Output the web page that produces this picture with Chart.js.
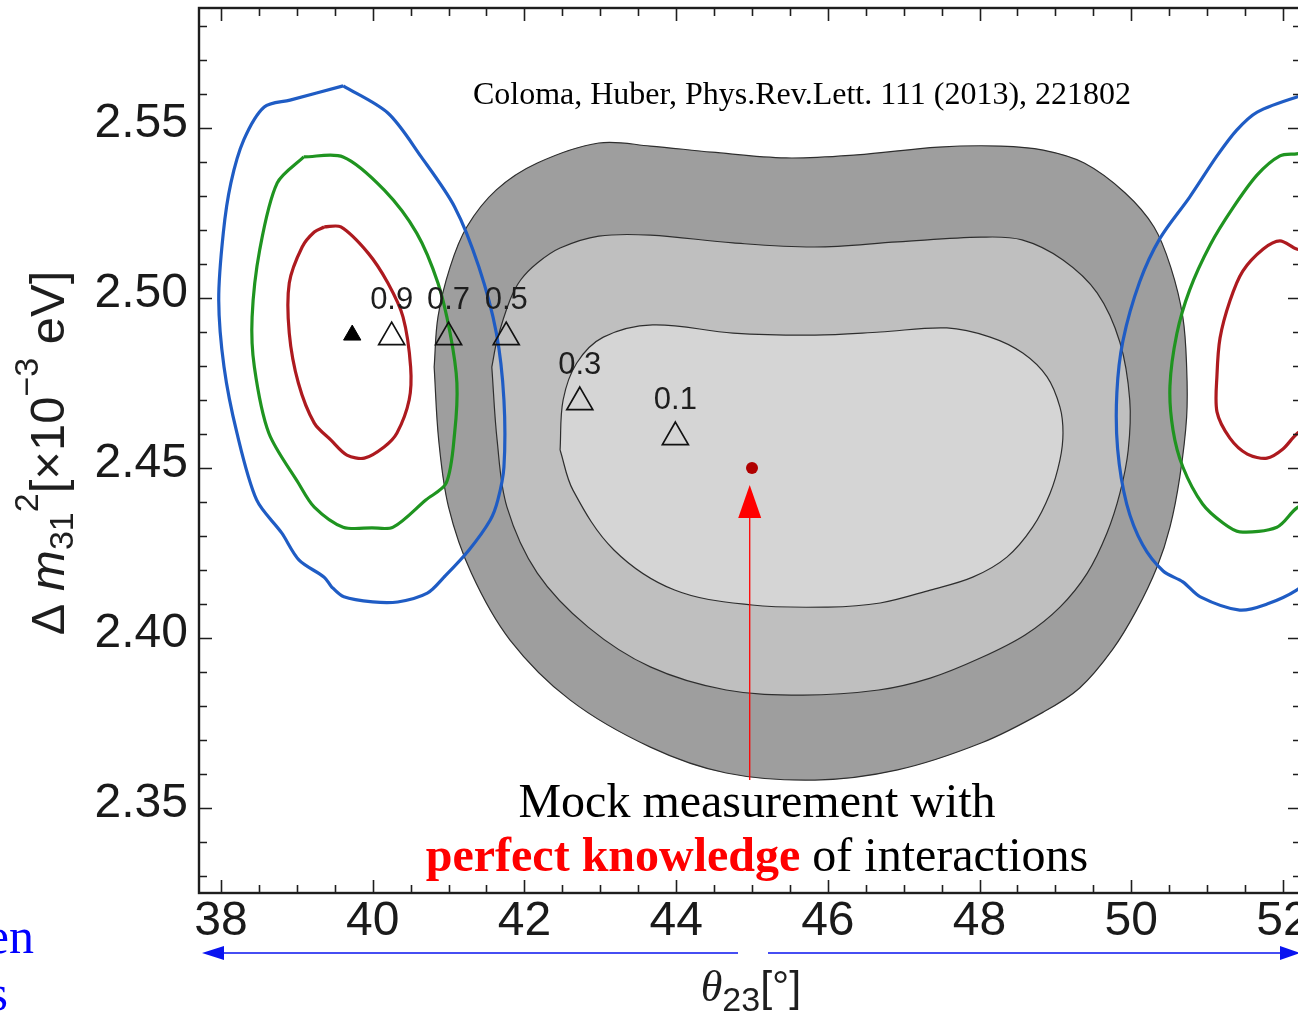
<!DOCTYPE html>
<html>
<head>
<meta charset="utf-8">
<title>theta23 vs dm31 - mock measurement</title>
<script src="https://cdn.jsdelivr.net/npm/chart.js@4.4.1/dist/chart.umd.min.js"></script>
<style>
  html, body { margin: 0; padding: 0; background: #fff; }
  canvas { display: block; }
</style>
</head>
<body>
<canvas id="chart" width="1298" height="1016"></canvas>
<script>
/* theta23 / Delta m31^2 plane: allowed regions with and without perfect knowledge of interactions */

const xTicks = [38, 40, 42, 44, 46, 48, 50, 52];
const xTickLabels = ["38", "40", "42", "44", "46", "48", "50", "52"];
const yTicks = [2.35, 2.40, 2.45, 2.50, 2.55];
const yTickLabels = ["2.35", "2.40", "2.45", "2.50", "2.55"];

// gray allowed regions (closed outlines: outer, middle, inner)
const outerRegion = [
  [40.81, 2.4797], [40.86, 2.4944], [41.02, 2.5091], [41.24, 2.5209], [41.63, 2.5318],
  [42.17, 2.5397], [42.98, 2.5456], [43.66, 2.5447], [44.47, 2.5429], [45.45, 2.5412],
  [46.38, 2.5421], [47.46, 2.5444], [48.28, 2.5447], [48.84, 2.5435], [49.38, 2.5397],
  [49.92, 2.5309], [50.30, 2.5209], [50.52, 2.5091], [50.68, 2.4944], [50.73, 2.4797],
  [50.73, 2.4650], [50.64, 2.4474], [50.51, 2.4326], [50.34, 2.4209], [50.07, 2.4082],
  [49.75, 2.3965], [49.32, 2.3853], [48.84, 2.3782], [48.02, 2.3691], [46.92, 2.3612],
  [45.83, 2.3582], [44.66, 2.3603], [43.66, 2.3679], [42.60, 2.3818], [41.81, 2.3994],
  [41.30, 2.4191], [41.00, 2.4385], [40.87, 2.4582], [40.81, 2.4797]
];
const middleRegion = [
  [41.57, 2.4797], [41.64, 2.4876], [41.81, 2.4994], [41.95, 2.5053], [42.17, 2.5103],
  [42.47, 2.5147], [42.98, 2.5182], [43.66, 2.5185], [44.75, 2.5162], [45.83, 2.5150],
  [46.92, 2.5165], [48.02, 2.5179], [48.56, 2.5171], [49.10, 2.5112], [49.55, 2.5015],
  [49.85, 2.4870], [49.98, 2.4700], [49.96, 2.4553], [49.85, 2.4426], [49.68, 2.4309],
  [49.42, 2.4191], [49.06, 2.4091], [48.60, 2.4009], [48.01, 2.3941], [47.35, 2.3882],
  [46.67, 2.3847], [45.67, 2.3832], [44.66, 2.3847], [43.66, 2.3915], [42.84, 2.4032],
  [42.17, 2.4191], [41.77, 2.4385], [41.64, 2.4582], [41.57, 2.4797]
];
const innerRegion = [
  [42.47, 2.4553], [42.51, 2.4700], [42.69, 2.4809], [43.04, 2.4885], [43.69, 2.4921],
  [44.75, 2.4897], [45.83, 2.4891], [46.69, 2.4900], [47.57, 2.4912], [48.14, 2.4885],
  [48.57, 2.4838], [48.89, 2.4768], [49.06, 2.4679], [49.10, 2.4603], [49.06, 2.4524],
  [48.93, 2.4426], [48.70, 2.4326], [48.36, 2.4238], [47.91, 2.4179], [47.35, 2.4141],
  [46.69, 2.4103], [46.00, 2.4091], [45.00, 2.4097], [43.98, 2.4141], [43.18, 2.4259],
  [42.64, 2.4435], [42.47, 2.4553]
];

// colored contours, left island
const blueLeft = [
  [39.61, 2.5624], [40.20, 2.5544], [40.64, 2.5415], [41.08, 2.5268], [41.40, 2.5091],
  [41.63, 2.4897], [41.73, 2.4700], [41.73, 2.4503], [41.65, 2.4406], [41.55, 2.4347],
  [41.27, 2.4259], [40.94, 2.4179], [40.72, 2.4132], [40.33, 2.4106], [40.00, 2.4106],
  [39.62, 2.4121], [39.46, 2.4150], [39.36, 2.4179], [39.03, 2.4229], [38.80, 2.4309],
  [38.47, 2.4406], [38.21, 2.4603], [38.04, 2.4797], [37.97, 2.4994], [38.03, 2.5191],
  [38.13, 2.5338], [38.30, 2.5465], [38.57, 2.5562], [38.91, 2.5582], [39.61, 2.5624]
];
const greenLeft = [
  [39.09, 2.5415], [39.61, 2.5415], [40.15, 2.5318], [40.58, 2.5191], [40.86, 2.5044],
  [41.02, 2.4897], [41.11, 2.4750], [41.08, 2.4603], [40.97, 2.4456], [40.70, 2.4406],
  [40.27, 2.4326], [39.99, 2.4324], [39.61, 2.4326], [39.23, 2.4385], [39.02, 2.4456],
  [38.63, 2.4603], [38.44, 2.4797], [38.41, 2.4944], [38.51, 2.5141], [38.74, 2.5338],
  [39.09, 2.5415]
];
const redLeft = [
  [39.36, 2.5209], [39.58, 2.5209], [39.94, 2.5132], [40.20, 2.5044], [40.40, 2.4944],
  [40.50, 2.4797], [40.48, 2.4700], [40.32, 2.4603], [40.15, 2.4562], [39.89, 2.4529],
  [39.66, 2.4538], [39.45, 2.4582], [39.23, 2.4632], [39.02, 2.4750], [38.90, 2.4897],
  [38.90, 2.5044], [39.07, 2.5150], [39.23, 2.5194], [39.36, 2.5209]
];

// colored contours, right island (runs past the right edge)
const blueRight = [
  [52.70, 2.5620], [52.18, 2.5591], [51.66, 2.5547], [51.39, 2.5494], [51.13, 2.5418],
  [50.77, 2.5297], [50.38, 2.5176], [50.11, 2.5047], [49.89, 2.4874], [49.81, 2.4721],
  [49.82, 2.4556], [49.94, 2.4394], [50.15, 2.4274], [50.42, 2.4197], [50.68, 2.4165],
  [50.91, 2.4121], [51.43, 2.4082], [51.79, 2.4100], [52.18, 2.4141], [52.70, 2.4230]
];
const greenRight = [
  [52.70, 2.5440], [52.18, 2.5424], [51.96, 2.5418], [51.66, 2.5362], [51.34, 2.5265],
  [51.04, 2.5156], [50.77, 2.5024], [50.60, 2.4894], [50.51, 2.4741], [50.55, 2.4612],
  [50.68, 2.4503], [50.94, 2.4394], [51.21, 2.4338], [51.43, 2.4312], [51.92, 2.4326],
  [52.18, 2.4382], [52.70, 2.4450]
];
const redRight = [
  [52.50, 2.5130], [52.18, 2.5144], [51.96, 2.5168], [51.74, 2.5144], [51.47, 2.5079],
  [51.30, 2.4991], [51.17, 2.4882], [51.13, 2.4774], [51.13, 2.4665], [51.30, 2.4588],
  [51.53, 2.4541], [51.79, 2.4529], [52.00, 2.4556], [52.18, 2.4600], [52.50, 2.4650]
];

// markers
const filledMarker = [[39.73, 2.4891]];
const openMarkers = [[40.25, 2.4885], [41.00, 2.4885], [41.76, 2.4885], [42.73, 2.4694], [43.99, 2.4591]];
const openLabels = ["0.9", "0.7", "0.5", "0.3", "0.1"];
const mockPoint = [[45.00, 2.4500]];
const arrowTail = [44.97, 2.3582];
const arrowTip = [44.97, 2.4450];

const citation = "Coloma, Huber, Phys.Rev.Lett. 111 (2013), 221802";
const mockLine1 = "Mock measurement with";
const mockRed = "perfect knowledge";
const mockRest = " of interactions";

const SANS = '"Liberation Sans", Arial, sans-serif';
const SERIF = '"Liberation Serif", "Times New Roman", serif';

const toPts = (arr) => arr.map(([x, y]) => ({ x, y }));

function region(pts, color, order) {
  return {
    data: toPts(pts), showLine: true, fill: "shape", backgroundColor: color,
    borderColor: "#2e2e2e", borderWidth: 1.2, pointRadius: 0, tension: 0.35, order,
  };
}
function contour(pts, color, order) {
  return {
    data: toPts(pts), showLine: true, fill: false, borderColor: color,
    borderWidth: 3.2, pointRadius: 0, tension: 0.3, order,
  };
}

// frame with inward ticks on all sides
const frameTicks = {
  id: "frameTicks",
  afterDatasetsDraw(chart) {
    const { ctx, chartArea: a, scales: { x, y } } = chart;
    const right = a.right + 3;
    ctx.save();
    ctx.strokeStyle = "#1e1e1e";
    ctx.lineWidth = 1.6;
    ctx.beginPath();
    for (let k = 76; k <= 104; k++) {
      const px = Math.round(x.getPixelForValue(k / 2)) + 0.5;
      const len = k % 4 === 0 ? 13 : 8;
      ctx.moveTo(px, a.bottom); ctx.lineTo(px, a.bottom - len);
      ctx.moveTo(px, a.top); ctx.lineTo(px, a.top + len);
    }
    for (let k = 233; k <= 258; k++) {
      const py = Math.round(y.getPixelForValue(k / 100)) + 0.5;
      const len = k % 5 === 0 ? 13 : 8;
      ctx.moveTo(a.left, py); ctx.lineTo(a.left + len, py);
      ctx.moveTo(right, py); ctx.lineTo(right - len, py);
    }
    ctx.stroke();
    ctx.lineWidth = 2.4;
    ctx.strokeRect(a.left, a.top, right - a.left, a.bottom - a.top);
    ctx.restore();
  },
};

// numbers over the triangles + red arrow
const markerNotes = {
  id: "markerNotes",
  afterDatasetsDraw(chart) {
    const { ctx, scales: { x, y } } = chart;
    const meta = chart.getDatasetMeta(chart.data.datasets.findIndex((d) => d.id === "open"));
    ctx.save();
    ctx.fillStyle = "#1e1e1e";
    ctx.font = "31px " + SANS;
    ctx.textAlign = "center";
    ctx.textBaseline = "middle";
    meta.data.forEach((pt, i) => ctx.fillText(openLabels[i], pt.x, pt.y - 37));

    const ax = x.getPixelForValue(arrowTail[0]);
    const ay0 = y.getPixelForValue(arrowTail[1]);
    const ay1 = y.getPixelForValue(arrowTip[1]);
    ctx.strokeStyle = "#ff0000";
    ctx.fillStyle = "#ff0000";
    ctx.lineWidth = 1.3;
    ctx.beginPath();
    ctx.moveTo(ax, ay0); ctx.lineTo(ax, ay1 + 28);
    ctx.stroke();
    ctx.beginPath();
    ctx.moveTo(ax, ay1); ctx.lineTo(ax - 11.5, ay1 + 33); ctx.lineTo(ax + 11.5, ay1 + 33);
    ctx.closePath();
    ctx.fill();
    ctx.restore();
  },
};

function drawRuns(ctx, runs, cx, base) {
  let total = 0;
  runs.forEach((r) => { ctx.font = r.font; r.w = ctx.measureText(r.t).width; total += r.w; });
  let px = cx - total / 2;
  ctx.textAlign = "left";
  ctx.textBaseline = "alphabetic";
  runs.forEach((r) => {
    ctx.save();
    if (r.color) ctx.fillStyle = r.color;
    ctx.font = r.font;
    ctx.fillText(r.t, px, base + (r.dy || 0));
    ctx.restore();
    px += r.w;
  });
}

// slide overlay: citation, mock measurement note, axis titles, blue arrows
const overlay = {
  id: "overlay",
  afterDraw(chart) {
    const ctx = chart.ctx;
    ctx.save();
    ctx.fillStyle = "#000";
    ctx.textAlign = "center";
    ctx.textBaseline = "alphabetic";
    ctx.font = "32px " + SERIF;
    ctx.fillText(citation, 802, 104);

    ctx.font = "48px " + SERIF;
    ctx.fillText(mockLine1, 757, 817);
    drawRuns(ctx, [
      { t: mockRed, font: "bold 48px " + SERIF, color: "#ff0000" },
      { t: mockRest, font: "48px " + SERIF },
    ], 757, 871);

    // blue arrows under the x axis
    ctx.strokeStyle = "#0a14f0";
    ctx.fillStyle = "#0a14f0";
    ctx.lineWidth = 1.6;
    ctx.beginPath();
    ctx.moveTo(222, 953); ctx.lineTo(738, 953);
    ctx.moveTo(768, 953); ctx.lineTo(1282, 953);
    ctx.stroke();
    ctx.beginPath();
    ctx.moveTo(202, 953); ctx.lineTo(224, 946); ctx.lineTo(224, 960); ctx.closePath();
    ctx.moveTo(1300, 953); ctx.lineTo(1280, 946); ctx.lineTo(1280, 960); ctx.closePath();
    ctx.fill();

    // cut-off slide text on the left
    ctx.fillStyle = "#0000ff";
    ctx.font = "50px " + SERIF;
    ctx.textAlign = "right";
    ctx.fillText("en", 34, 953);
    ctx.fillText("s", 8, 1010);

    // x title: theta_23 [deg]
    ctx.fillStyle = "#1e1e1e";
    drawRuns(ctx, [
      { t: "\u03B8", font: "italic 44px " + SERIF },
      { t: "23", font: "34px " + SANS, dy: 10 },
      { t: "[\u00B0]", font: "43px " + SANS },
    ], 751, 1001);

    // y title: Delta m31^2 [x10^-3 eV]
    ctx.translate(64, 453);
    ctx.rotate(-Math.PI / 2);
    drawRuns(ctx, [
      { t: "\u0394 ", font: "47px " + SANS },
      { t: "m", font: "italic 49px " + SANS },
      { t: "31", font: "34px " + SANS, dy: 9 },
      { t: "2", font: "34px " + SANS, dy: -26 },
      { t: "[\u00D710", font: "49px " + SANS },
      { t: "\u22123", font: "34px " + SANS, dy: -26 },
      { t: " eV]", font: "49px " + SANS },
    ], 0, 0);
    ctx.restore();
  },
};

new Chart(document.getElementById("chart"), {
  type: "scatter",
  data: {
    datasets: [
      region(outerRegion, "#9e9e9e", 30),
      region(middleRegion, "#bfbfbf", 29),
      region(innerRegion, "#d5d5d5", 28),
      contour(blueLeft, "#1f5cc4", 12),
      contour(greenLeft, "#1f9420", 11),
      contour(redLeft, "#ad1a1f", 10),
      contour(blueRight, "#1f5cc4", 12),
      contour(greenRight, "#1f9420", 11),
      contour(redRight, "#ad1a1f", 10),
      {
        id: "filled", data: toPts(filledMarker), pointStyle: "triangle", pointRadius: 10,
        backgroundColor: "#000", borderColor: "#000", borderWidth: 1, order: 2,
      },
      {
        id: "open", data: toPts(openMarkers), pointStyle: "triangle", pointRadius: 15,
        backgroundColor: "rgba(0,0,0,0)", borderColor: "#111", borderWidth: 1.7, order: 1,
      },
      {
        id: "mock", data: toPts(mockPoint), pointStyle: "circle", pointRadius: 6,
        backgroundColor: "#b00000", borderColor: "#b00000", borderWidth: 0, order: 0,
      },
    ],
  },
  options: {
    responsive: false,
    animation: false,
    events: [],
    layout: { autoPadding: false, padding: { top: 8, right: 0, bottom: 0, left: 0 } },
    plugins: { legend: { display: false }, tooltip: { enabled: false } },
    scales: {
      x: {
        type: "linear", position: "bottom", min: 37.71, max: 52.198,
        grid: { display: false, drawTicks: false }, border: { display: false },
        afterBuildTicks: (s) => { s.ticks = xTicks.map((v) => ({ value: v })); },
        afterFit: (s) => { s.height = 123; s.paddingLeft = 0; s.paddingRight = 0; },
        ticks: {
          autoSkip: false, maxRotation: 0, minRotation: 0, padding: 0, color: "#1a1a1a",
          font: { family: SANS, size: 48 },
          callback: (v, i) => xTickLabels[i],
        },
      },
      y: {
        type: "linear", position: "left", min: 2.325, max: 2.5853,
        grid: { display: false, drawTicks: false }, border: { display: false },
        afterBuildTicks: (s) => { s.ticks = yTicks.map((v) => ({ value: v })); },
        afterFit: (s) => { s.width = 199; s.paddingTop = 0; s.paddingBottom = 0; },
        ticks: {
          autoSkip: false, padding: 11, labelOffset: -4, color: "#1a1a1a",
          font: { family: SANS, size: 48 },
          callback: (v, i) => yTickLabels[i],
        },
      },
    },
  },
  plugins: [frameTicks, markerNotes, overlay],
});
</script>
</body>
</html>
